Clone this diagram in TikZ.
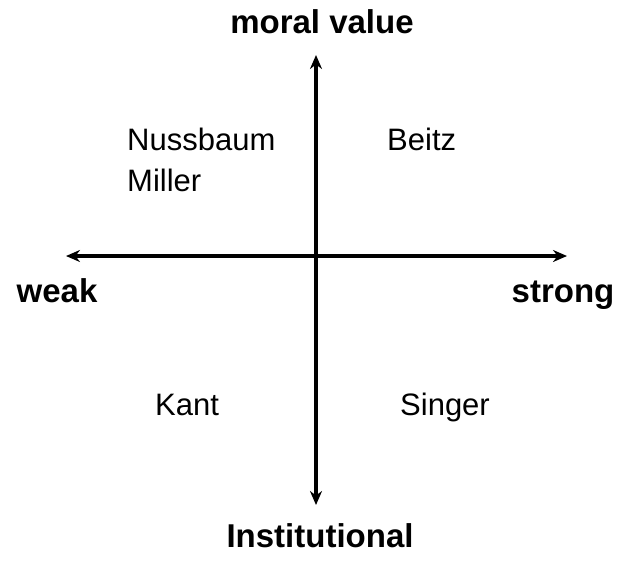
\documentclass[tikz,border=0pt]{standalone}
\usepackage{fontspec}
\setmainfont{Liberation Sans}
\usetikzlibrary{arrows.meta}

\begin{document}
\begin{tikzpicture}[x=1pt,y=-1pt,
  axis/.style={line width=3.4pt,{Stealth[length=14pt,width=12pt]}-{Stealth[length=14pt,width=12pt]}},
  thinker/.style={font=\fontsize{31}{37}\selectfont,anchor=base west,inner sep=0pt},
  pole/.style={font=\fontsize{33}{39}\selectfont\bfseries,anchor=base,inner sep=0pt}]
\useasboundingbox (0,0) rectangle (626,563);

\coordinate (top) at (316,55);
\coordinate (bottom) at (316,505);
\coordinate (left) at (66,256);
\coordinate (right) at (567,256);

\draw [axis] (bottom) -- (top);
\draw [axis] (left) -- (right);

\node [pole] (moral) at (322,33) {moral value};
\node [pole] (inst) at (320,547) {Institutional};
\node [pole] (weak) at (57,302) {weak};
\node [pole] (strong) at (563,302) {strong};

\node [thinker] (nussbaum) at (127,150) {Nussbaum};
\node [thinker] (miller) at (127,191) {Miller};
\node [thinker] (beitz) at (387,150) {Beitz};
\node [thinker] (kant) at (155,415) {Kant};
\node [thinker] (singer) at (400,415) {Singer};
\end{tikzpicture}
\end{document}
